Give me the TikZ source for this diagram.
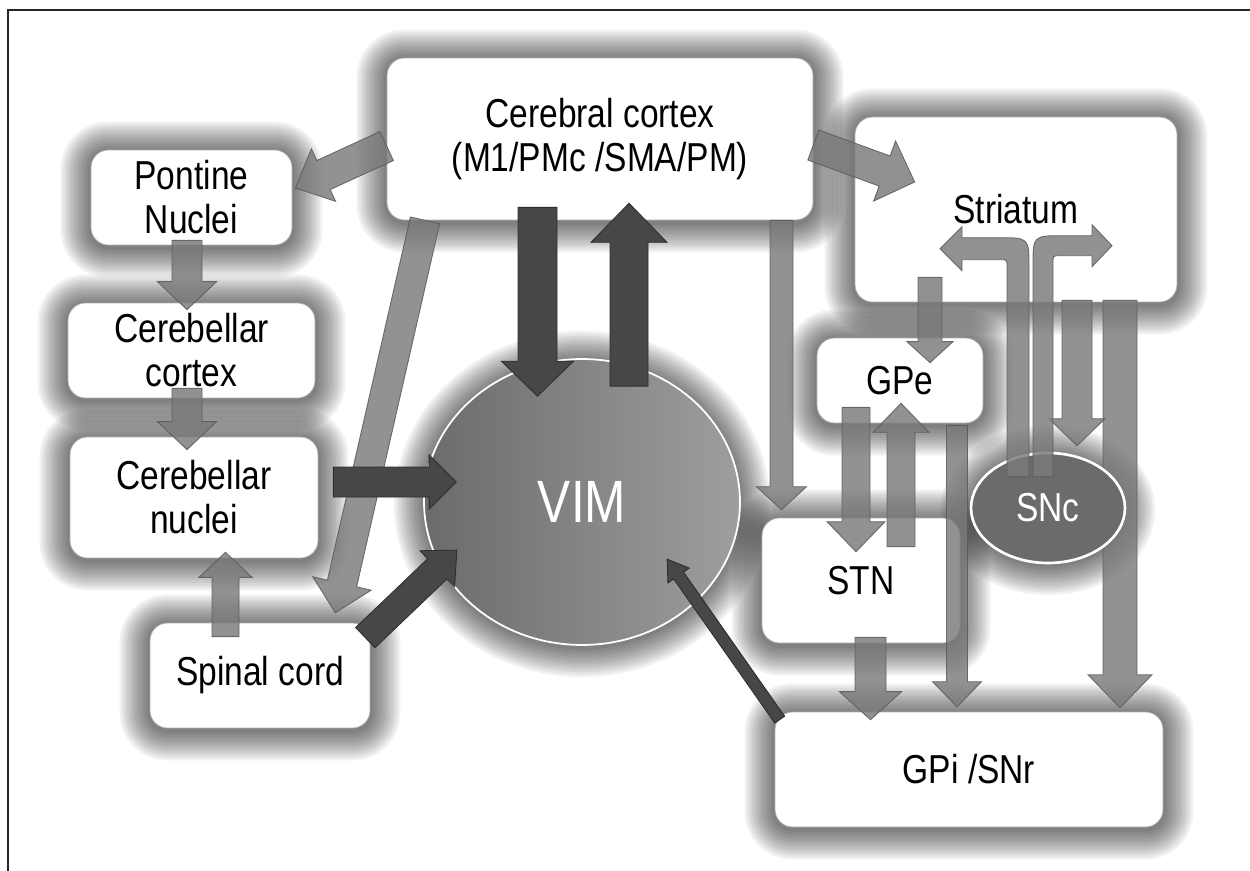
\documentclass[tikz,border=0pt]{standalone}
\usepackage{fontspec}
\setmainfont{Liberation Sans}[FakeStretch=0.83]
\usetikzlibrary{calc,shapes.geometric,backgrounds}

\begin{document}
\begin{tikzpicture}[x=0.02cm, y=-0.02cm,
    box/.style={draw=black!30, fill=white, rounded corners=10pt, align=center, inner sep=0pt, font=\fontsize{23}{25}\selectfont},
    vimnode/.style={ellipse, draw=white, line width=1pt, left color=black!58, right color=black!38, inner sep=0pt, text=white, font=\fontsize{34}{36}\selectfont},
    sncnode/.style={ellipse, draw=white, line width=1.5pt, fill=black!58, inner sep=0pt, text=white, font=\fontsize{23}{25}\selectfont},
    lightarr/.style={fill=black!52, fill opacity=0.82, draw=black!65, draw opacity=0.85, line width=0.5pt},
    darkarr/.style={fill=black!72, draw=black!82, line width=0.5pt},
    glow/.style={draw=black, draw opacity=0.055}]
            \newcommand{\barrow}[6][]{
                \path let \p1=#2, \p2=#3 in \pgfextra{
                    \pgfmathsetmacro\barang{atan2(\y2-\y1,\x2-\x1)}
                    \pgfmathsetmacro\barlen{veclen(\x2-\x1,\y2-\y1)/0.569055}
                    \xdef\barang{\barang}\xdef\barlen{\barlen}};
                \filldraw[#1, shift={#2}, rotate=\barang, x=0.02cm, y=0.02cm] (0,-#4) -- ({\barlen-#6},-#4) -- ({\barlen-#6},-#5) -- (\barlen,0) -- ({\barlen-#6},#5) -- ({\barlen-#6},#4) -- (0,#4) -- cycle
            }
            \useasboundingbox (0,0) rectangle (1250,871);
            \draw[line width=1.6pt, black!85] (8,871) -- (8,10) -- (1250,10);

            \node[box, minimum width=8.52cm, minimum height=3.24cm] (cortex) at (600,139) {Cerebral cortex\\(M1/PMc /SMA/PM)};
            \node[box, minimum width=4.02cm, minimum height=1.9cm] (pontine) at (191.5,197.5) {Pontine\\Nuclei};
            \node[box, minimum width=4.94cm, minimum height=1.9cm] (cbcortex) at (191.5,350.5) {Cerebellar\\cortex};
            \node[box, minimum width=4.96cm, minimum height=2.42cm] (cbnuclei) at (194,497.5) {Cerebellar\\nuclei};
            \node[box, minimum width=4.4cm, minimum height=2.1cm] (spinal) at (260,675.5) {Spinal cord};
            \node[box, minimum width=6.44cm, minimum height=3.7cm] (striatum) at (1016,209.5) {Striatum};
            \node[box, minimum width=3.32cm, minimum height=1.7cm] (gpe) at (900,380.5) {GPe};
            \node[box, minimum width=3.96cm, minimum height=2.5cm] (stn) at (861,580.5) {STN};
            \node[box, minimum width=7.76cm, minimum height=2.3cm] (gpi) at (969,769.5) {GPi /SNr};
            \node[vimnode, minimum width=6.32cm, minimum height=5.72cm] (vim) at (582,502) {VIM};

            \barrow[lightarr]{($(cortex.west)+(0,7)$)}{($(pontine.east)+(3,-9.5)$)}{16}{29}{31};
            \barrow[lightarr]{($(cortex.east)+(0,6)$)}{($(striatum.west)+(60,-27.5)$)}{16}{32}{32};
            \barrow[lightarr]{($(cortex.south)+(-175,0)$)}{($(spinal.north east)+(-35,-10)$)}{15}{30}{30};
            \barrow[lightarr]{($(cortex.south)+(181.5,0)$)}{($(stn.north)+(-79.5,-8)$)}{11.5}{25}{23};
            \barrow[lightarr]{($(pontine.south)+(-4.5,-5)$)}{($(cbcortex.north)+(-4.5,7)$)}{15}{29.5}{28};
            \barrow[lightarr]{($(cbcortex.south)+(-4.5,-10)$)}{($(cbnuclei.north)+(-7,13)$)}{15}{29.5}{28};
            \barrow[lightarr]{($(spinal.north)+(-34.5,14)$)}{($(cbnuclei.south)+(31.5,-6)$)}{13.5}{26.5}{25};
            \barrow[lightarr]{($(striatum.south)+(-86,-25)$)}{($(gpe.north)+(30,25)$)}{12}{23}{21};
            \barrow[lightarr]{($(gpe.south)+(-44,-16)$)}{($(stn.north)+(-5,34)$)}{14}{29}{30};
            \barrow[lightarr]{($(stn.north)+(40,29)$)}{($(gpe.south)+(1,-20)$)}{14}{28}{29};
            \barrow[lightarr]{($(stn.south)+(9.5,-6)$)}{($(gpi.north)+(-98.5,8)$)}{15.5}{31}{28};
            \barrow[lightarr]{($(gpe.south)+(57,2)$)}{($(gpi.north)+(-12,-5)$)}{10.5}{24.5}{25};
            \barrow[lightarr]{($(striatum.south)+(104,-2)$)}{($(gpi.north)+(151,-4)$)}{17}{32}{33};

            \node[sncnode, minimum width=3.08cm, minimum height=2.2cm] (snc) at (1048,508) {SNc};
            \barrow[lightarr]{($(striatum.south)+(61,-2)$)}{($(snc.north)+(29,-6)$)}{15}{28}{27};
            \coordinate (sncl) at ($(snc.north)+(-30,25)$);
            \coordinate (sncr) at ($(snc.north)+(-5,25)$);
            \filldraw[lightarr, shift={(sncl)}] (-11,0) -- (-11,-210) .. controls (-11,-217) .. (-18,-217) -- (-56,-217) -- (-56,-206) -- (-78,-228) -- (-56,-250) -- (-56,-239) -- (-19,-239) .. controls (11,-239) .. (11,-209) -- (11,0) -- cycle;
            \filldraw[lightarr, shift={(sncr)}] (10,0) -- (10,-214) .. controls (10,-221) .. (17,-221) -- (49,-221) -- (49,-210) -- (69,-231) -- (49,-252) -- (49,-241) -- (20,-241) .. controls (-10,-241) .. (-10,-211) -- (-10,0) -- cycle;

            \barrow[darkarr]{($(cortex.south)+(-62.5,-13)$)}{($(vim.north)+(-44.5,38)$)}{19.5}{36}{35};
            \barrow[darkarr]{($(vim.north)+(47,28)$)}{($(cortex.south)+(29,-17)$)}{19}{38}{39};
            \barrow[darkarr]{($(cbnuclei.east)+(15,-15.5)$)}{($(vim.west)+(33,-20)$)}{15}{27}{27};
            \barrow[darkarr]{($(spinal.north east)+(-5,15)$)}{($(vim.center)+(-125,48)$)}{14}{25}{27};
            \barrow[darkarr]{($(gpi.north west)+(5,8)$)}{($(vim.center)+(85,57)$)}{6}{13}{20};

            \begin{scope}[on background layer]
                \foreach \n in {cortex,pontine,cbcortex,cbnuclei,spinal,striatum,gpe,stn,gpi}
                    \foreach \k in {1,...,12}
                        \draw[glow, line width=2.85*\k pt, rounded corners=10pt] ($(\n.south west)+(0,2)$) rectangle ($(\n.north east)+(0,2)$);
                \foreach \k in {1,...,12}{
                    \draw[glow, line width=2.85*\k pt] ($(vim.center)+(0,2)$) ellipse (158 and 143);
                    \draw[glow, line width=2.85*\k pt] ($(snc.center)+(0,2)$) ellipse (77 and 55);
                }
            \end{scope}
        \end{tikzpicture}
\end{document}
